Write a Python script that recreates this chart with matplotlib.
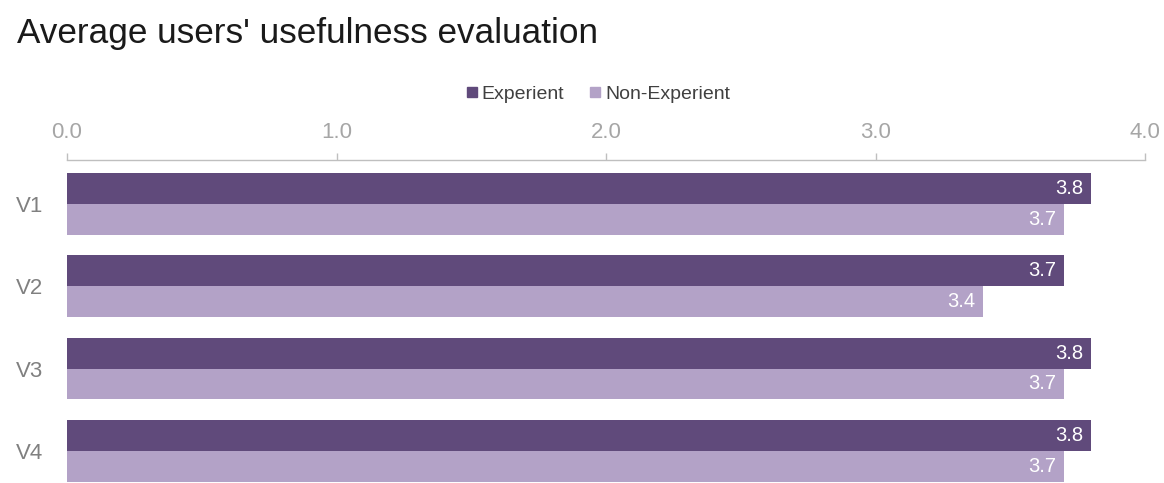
import numpy as np
import matplotlib
matplotlib.use("Agg")
import matplotlib.pyplot as plt
from matplotlib.lines import Line2D

plt.rcParams['font.family'] = ['Liberation Sans', 'DejaVu Sans']

# data
categories = ["V1", "V2", "V3", "V4"]
experient = [3.8, 3.7, 3.8, 3.8]
non_experient = [3.7, 3.4, 3.7, 3.7]
x_ticks = [0.0, 1.0, 2.0, 3.0, 4.0]

dark = "#604A7B"
light = "#B3A2C7"

fig = plt.figure(figsize=(11.64, 4.83), dpi=100)
ax = fig.add_axes([67 / 1164, 0.0, (1145 - 67) / 1164, (483 - 160) / 483])

y = np.arange(len(categories))
h = 0.375
ax.barh(y - h / 2, experient, height=h, color=dark)
ax.barh(y + h / 2, non_experient, height=h, color=light)

# value labels inside bar ends
for yi, v in zip(y, experient):
    ax.text(v - 0.03, yi - h / 2, f"{v:.1f}", color="white", fontsize=14.5,
            ha="right", va="center")
for yi, v in zip(y, non_experient):
    ax.text(v - 0.03, yi + h / 2, f"{v:.1f}", color="white", fontsize=14.5,
            ha="right", va="center")

ax.set_xlim(0, 4.0)
ax.set_ylim(3.39, -0.533)
ax.set_xticks(x_ticks)
ax.set_xticklabels([f"{t:.1f}" for t in x_ticks])
ax.xaxis.tick_top()
ax.tick_params(axis="x", colors="#BFBFBF", labelcolor="#A6A6A6", labelsize=16,
               length=5, width=1, pad=7)
ax.set_yticks(y)
ax.set_yticklabels(categories)
ax.tick_params(axis="y", length=0, labelcolor="#808080", labelsize=16, pad=17)

for s in ["left", "right", "bottom"]:
    ax.spines[s].set_visible(False)
ax.spines["top"].set_color("#BFBFBF")
ax.spines["top"].set_linewidth(1)

fig.text(17 / 1164, 1 - 34 / 483, "Average users' usefulness evaluation",
         fontsize=25.3, color="#1A1A1A", ha="left", va="center")

handles = [Line2D([], [], marker="s", linestyle="none", color=dark, markersize=7),
           Line2D([], [], marker="s", linestyle="none", color=light, markersize=7)]
fig.legend(handles, ["Experient", "Non-Experient"], loc="center",
           bbox_to_anchor=(597 / 1164, 1 - 94 / 483), ncol=2, frameon=False,
           fontsize=14, labelcolor="#404040", handletextpad=0.1,
           columnspacing=1.2, handlelength=0.8)

fig.savefig("out.png", dpi=100)
